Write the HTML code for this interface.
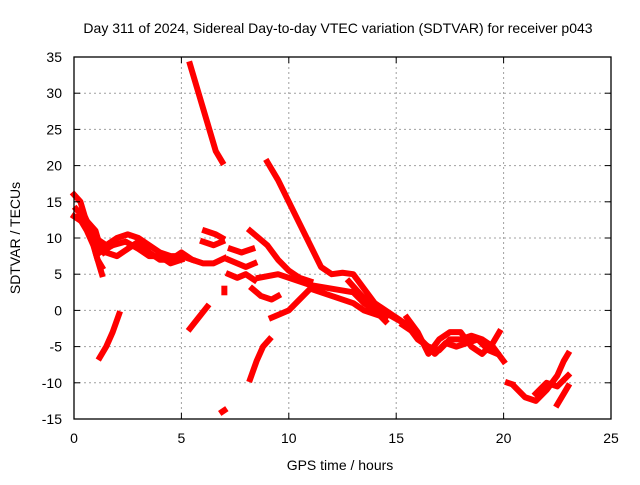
<!DOCTYPE html>
<html><head><meta charset="utf-8"><style>
body{margin:0;background:#fff;}
svg text{font-family:"Liberation Sans",sans-serif;font-size:14px;fill:#000;}
</style></head><body>
<svg width="640" height="480" viewBox="0 0 640 480">
<g id="grid"></g>
<g id="marks"></g>
<rect x="74" y="57" width="537" height="362" fill="none" stroke="#000" stroke-width="1.3"/>
<g id="ticks"></g>
<text x="338" y="33" text-anchor="middle">Day 311 of 2024, Sidereal Day-to-day VTEC variation (SDTVAR) for receiver p043</text>
<text x="340" y="470" text-anchor="middle">GPS time / hours</text>
<text x="20" y="238" text-anchor="middle" transform="rotate(-90 20 238)">SDTVAR / TECUs</text>
</svg>
<script>
const xTicks=[0,5,10,15,20,25];
const yTicks=[-15,-10,-5,0,5,10,15,20,25,30,35];
const track1=[[0,16],[0.3,15],[0.5,13],[0.8,11],[1.0,8],[1.2,6],[1.3,5]];
const track2=[[0,13],[0.5,12],[1,10],[1.5,9],[2,10],[2.5,10.5],[3,10],[3.5,9],[4,8],[4.5,7.5],[5,7.5],[5.5,7]];
const track3=[[1,9],[1.5,8],[2,7.5],[2.5,8.5],[3,9.5],[3.5,8],[4,7],[4.5,7],[5,8],[5.5,7],[6,6.5],[6.5,6.5],[7,7.2]];
const track4=[[0.1,14],[0.4,13],[0.7,12],[1,11],[1.2,9],[1.4,8]];
const track5=[[1.2,-6.5],[1.5,-5],[1.8,-3],[2.1,-0.5]];
const track6=[[5.4,34],[5.8,30],[6.2,26],[6.6,22],[6.9,20.5]];
const track7=[[5.4,-2.5],[5.8,-1],[6.2,0.5]];
const track8=[[6.1,11],[6.6,10.5],[6.9,10]];
const track9=[[6,9.5],[6.5,9],[6.9,9.5]];
const track10=[[7.3,8.5],[7.8,8],[8.3,8.5]];
const track11=[[7.2,7],[7.6,6.5],[8,6],[8.4,6.5]];
const track12=[[7.2,5],[7.6,4.5],[8,5],[8.4,4.2]];
const track13=[[8.2,-9.5],[8.5,-7],[8.8,-5],[9.1,-4]];
const track14=[[8.2,11],[8.6,10],[9,9],[9.5,7],[10,5.5],[10.5,4.5],[11,4]];
const track15=[[9,20.5],[9.5,18],[10,15],[10.5,12],[11,9],[11.5,6],[12,5],[12.5,5.2],[13,5],[13.5,3],[14,1],[14.5,0],[15,-1],[15.5,-2]];
const track16=[[8.3,3],[8.7,2],[9.2,1.5],[9.5,2]];
const track17=[[9.2,-1],[10,0],[10.5,1.5],[11,3],[11.5,2.5],[12,2],[12.5,1.5],[13,1],[13.5,0],[14,-0.5],[14.5,-1]];
const track18=[[8.6,4.5],[9.5,5],[10,4.5],[10.5,4],[11,3.5],[12,3],[13,2.5],[13.5,1],[14,0],[14.5,-1.5]];
const track19=[[15,-1],[15.5,-2],[16,-4],[16.5,-5],[17,-5.5],[17.5,-4],[18,-4],[18.5,-3.5],[19,-4],[19.5,-5],[20,-7]];
const track20=[[15.5,-1],[16,-3],[16.5,-6],[17,-4],[17.5,-3],[18,-3],[18.5,-5],[19,-6],[19.5,-4.5],[19.8,-3]];
const track21=[[20.5,-10.5],[21,-12],[21.5,-12.5],[22,-11],[22.5,-9],[22.8,-7],[23,-6]];
const track22=[[21.5,-11.5],[22,-10],[22.5,-10.5],[23,-9]];
const track23=[[22.5,-13],[22.8,-11.5],[23,-10.5]];
const track24=[[7,3],[7,2.5]];
const track25=[[6.9,-14],[7,-13.8]];
const track26=[[20.2,-10],[20.4,-10.2]];
const track27=[[0.2,13],[0.6,11],[0.9,9],[1.1,7],[1.3,6]];
const track28=[[1.2,8],[1.8,9],[2.4,9.5],[3,8.5],[3.5,7.5],[4,7.5],[4.5,6.5],[5,7]];
const track29=[[15.3,-2],[15.8,-3],[16.3,-4.5],[16.8,-6],[17.3,-4.5],[17.8,-5],[18.3,-4.5],[18.8,-4],[19.3,-5.5],[19.7,-6]];
const track30=[[12.8,4],[13.4,2],[14,0.5],[14.6,-0.5],[15.2,-1.5]];
const tracks=[track1,track2,track3,track4,track5,track6,track7,track8,track9,track10,track11,track12,track13,track14,track15,track16,track17,track18,track19,track20,track21,track22,track23,track24,track25,track26,track27,track28,track29,track30];
const X0=74,X1=611,Y0=419,Y1=57;
function sx(v){return X0+(v-0)/(25-0)*(X1-X0);}
function sy(v){return Y0-(v+15)/(50)*(Y0-Y1);}
const NS='http://www.w3.org/2000/svg';
const grid=document.getElementById('grid'),ticks=document.getElementById('ticks'),marks=document.getElementById('marks');
function mk(tag,attrs,parent){const e=document.createElementNS(NS,tag);for(const k in attrs)e.setAttribute(k,attrs[k]);parent.appendChild(e);return e;}
xTicks.forEach(t=>{const x=sx(t);
 if(t>0&&t<25){const g=mk('line',{x1:x,x2:x,y1:Y1,y2:Y0,stroke:'#a0a0a0','stroke-dasharray':'2,3'},grid);
 
 }
 mk('line',{x1:x,x2:x,y1:Y0,y2:Y0-6,stroke:'#000'},ticks);mk('line',{x1:x,x2:x,y1:Y1,y2:Y1+6,stroke:'#000'},ticks);
 const l=mk('text',{x:x,y:443,'text-anchor':'middle'},ticks);l.textContent=t;
 
 });
yTicks.forEach(t=>{const y=sy(t);
 if(t>-15&&t<35){const g=mk('line',{x1:X0,x2:X1,y1:y,y2:y,stroke:'#a0a0a0','stroke-dasharray':'2,3'},grid);
 
 }
 mk('line',{x1:X0,x2:X0+6,y1:y,y2:y,stroke:'#000'},ticks);mk('line',{x1:X1,x2:X1-6,y1:y,y2:y,stroke:'#000'},ticks);
 const l=mk('text',{x:62,y:y+5,'text-anchor':'end'},ticks);l.textContent=t;
 
 });
tracks.forEach((tr,i)=>{const p=mk('polyline',{points:tr.map(d=>sx(d[0])+','+sy(d[1])).join(' '),fill:'none',stroke:'#ff0000','stroke-width':6,'stroke-linejoin':'round','stroke-linecap':'square'},marks);
 
 });
</script>
</body></html>
